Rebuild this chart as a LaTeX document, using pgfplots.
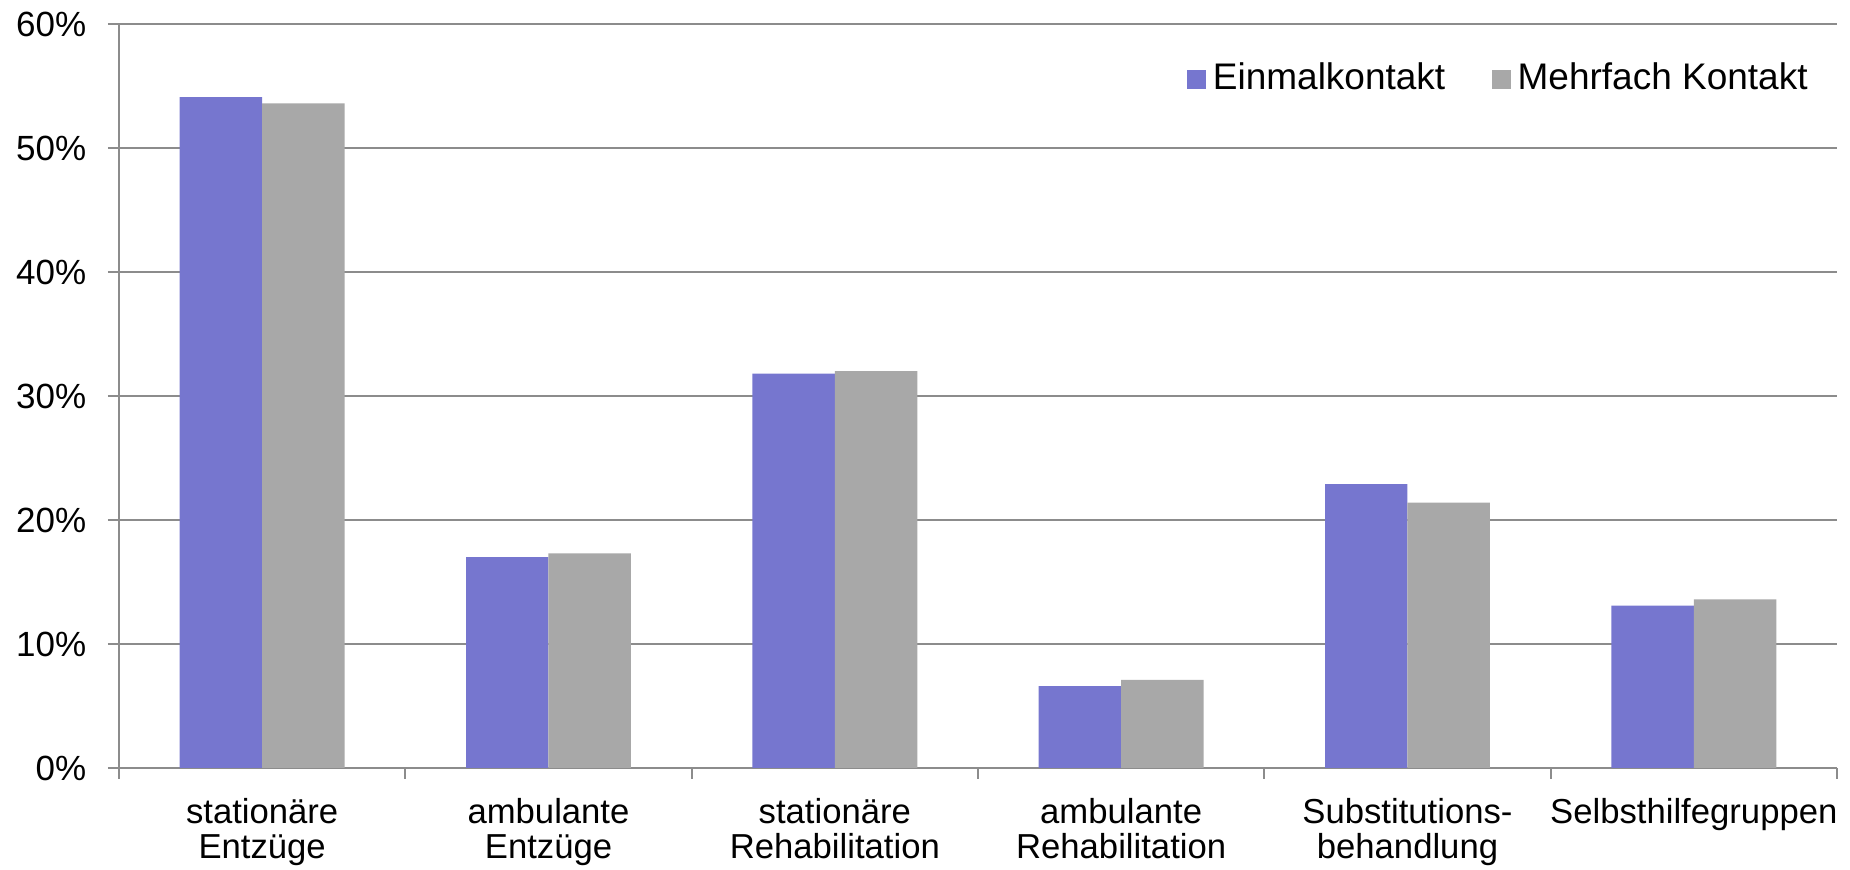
\documentclass[border=0pt]{standalone}
\usepackage{pgfplots}
\pgfplotsset{compat=1.18}
\usepackage{fontspec}
\setmainfont{Liberation Sans}
\definecolor{einmal}{HTML}{7676CF}
\definecolor{mehrfach}{HTML}{A8A8A8}
\definecolor{achse}{HTML}{8C8C8C}

\begin{document}
\begin{tikzpicture}
% page = 1850x870 px at 0.3pt per px
\path[use as bounding box] (-35.7pt,-30.6pt) rectangle (519.3pt,230.4pt);
\begin{axis}[
    scale only axis,
    width=515.4pt, height=223.2pt,
    xmin=-0.5, xmax=5.5,
    ymin=0, ymax=60,
    axis x line*=bottom,
    axis y line*=left,
    axis line style={achse, line width=0.6pt, -},
    tick style={achse, line width=0.6pt},
    tick align=outside,
    major tick length=3.3pt,
    minor tick length=3.3pt,
    xtick={0,1,2,3,4,5},
    major x tick style={draw=none},
    minor xtick={-0.5,0.5,1.5,2.5,3.5,4.5,5.5},
    xticklabels={{stationäre\\Entzüge},{ambulante\\Entzüge},{stationäre\\Rehabilitation},{ambulante\\Rehabilitation},{Substitutions-\\behandlung},{Selbsthilfegruppen}},
    xticklabel style={align=center, font=\fontsize{10.4}{10.5}\selectfont, anchor=north, yshift=-2.4pt},
    ytick={0,10,20,30,40,50,60},
    yticklabels={0\%,10\%,20\%,30\%,40\%,50\%,60\%},
    yticklabel style={font=\fontsize{10.5}{12}\selectfont, xshift=-3pt},
    ymajorgrids,
    grid style={achse, line width=0.6pt},
    legend style={draw=none, fill=none, at={(0.993,0.926)}, anchor=east,
        font=\fontsize{11.1}{13}\selectfont, legend columns=2,
        /tikz/every even column/.append style={column sep=12pt}},
    legend image code/.code={\fill[#1] (0pt,-2.85pt) rectangle (5.7pt,2.85pt);},
]
\addplot[ybar, bar width=0.288, bar shift=-0.144, fill=einmal, draw=none]
    coordinates {(0,54.1) (1,17.0) (2,31.8) (3,6.6) (4,22.9) (5,13.1)};
\addlegendentry{Einmalkontakt}
\addplot[ybar, bar width=0.288, bar shift=0.144, fill=mehrfach, draw=none]
    coordinates {(0,53.6) (1,17.3) (2,32.0) (3,7.1) (4,21.4) (5,13.6)};
\addlegendentry{Mehrfach Kontakt}
\end{axis}
\end{tikzpicture}
\end{document}
